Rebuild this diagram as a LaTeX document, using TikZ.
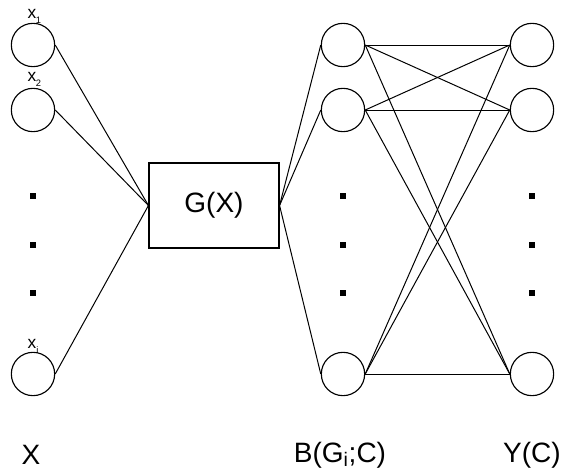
\documentclass[tikz,border=0pt]{standalone}
\usepackage{fontspec}
\setmainfont{Liberation Sans}
\begin{document}
\begin{tikzpicture}[x=0.75pt,y=-0.75pt,
  neuron/.style={draw,circle,line width=0.85pt,minimum size=32.5pt,inner sep=0pt},
  conn/.style={line width=0.75pt},
  dotsq/.style={fill=black,minimum size=4.5pt,inner sep=0pt,draw=none},
  small/.style={font=\fontsize{13}{14}\selectfont,inner sep=0pt},
  sub/.style={font=\fontsize{7}{8}\selectfont,inner sep=0pt},
  big/.style={font=\fontsize{21}{24}\selectfont,inner sep=0pt}]
\useasboundingbox (0,0) rectangle (565,475);
% left column
\node[neuron] (a1) at (33,45) {};
\node[neuron] (a2) at (33,110) {};
\node[neuron] (ai) at (33,374) {};
\node[dotsq] (ad1) at (33,196) {};
\node[dotsq] (ad2) at (33,245) {};
\node[dotsq] (ad3) at (33,293) {};
\node[small] (la1) at (32,14) {x};
\node[sub] (sa1) at (38.5,20) {1};
\node[small] (la2) at (32,77) {x};
\node[sub] (sa2) at (38.5,83) {2};
\node[small] (lai) at (32,344) {x};
\node[sub] (sai) at (37.5,350) {i};
% box
\node[draw,line width=0.85pt,minimum width=97.5pt,minimum height=63.75pt,inner sep=0pt,big] (g) at (214,205.5) {G(X)};
% middle column
\node[neuron] (b1) at (343,45) {};
\node[neuron] (b2) at (343,110) {};
\node[neuron] (bi) at (343,374) {};
\node[dotsq] (bd1) at (343,196) {};
\node[dotsq] (bd2) at (343,245) {};
\node[dotsq] (bd3) at (343,293) {};
% right column
\node[neuron] (c1) at (532,45) {};
\node[neuron] (c2) at (532,110) {};
\node[neuron] (ci) at (532,374) {};
\node[dotsq] (cd1) at (532,196) {};
\node[dotsq] (cd2) at (532,245) {};
\node[dotsq] (cd3) at (532,293) {};
% bottom labels
\node[big] (lx) at (31,455) {X};
\node[big] (lb) at (340,455) {B(G\textsubscript{i};C)};
\node[big] (ly) at (532,455) {Y(C)};
% connectors
\foreach \n in {a1,a2,ai} \draw[conn] (\n.east) -- (g.west);
\foreach \n in {b1,b2,bi} \draw[conn] (g.east) -- (\n.west);
\foreach \m in {b1,b2,bi} \foreach \n in {c1,c2,ci} \draw[conn] (\m.east) -- (\n.west);
\end{tikzpicture}
\end{document}
